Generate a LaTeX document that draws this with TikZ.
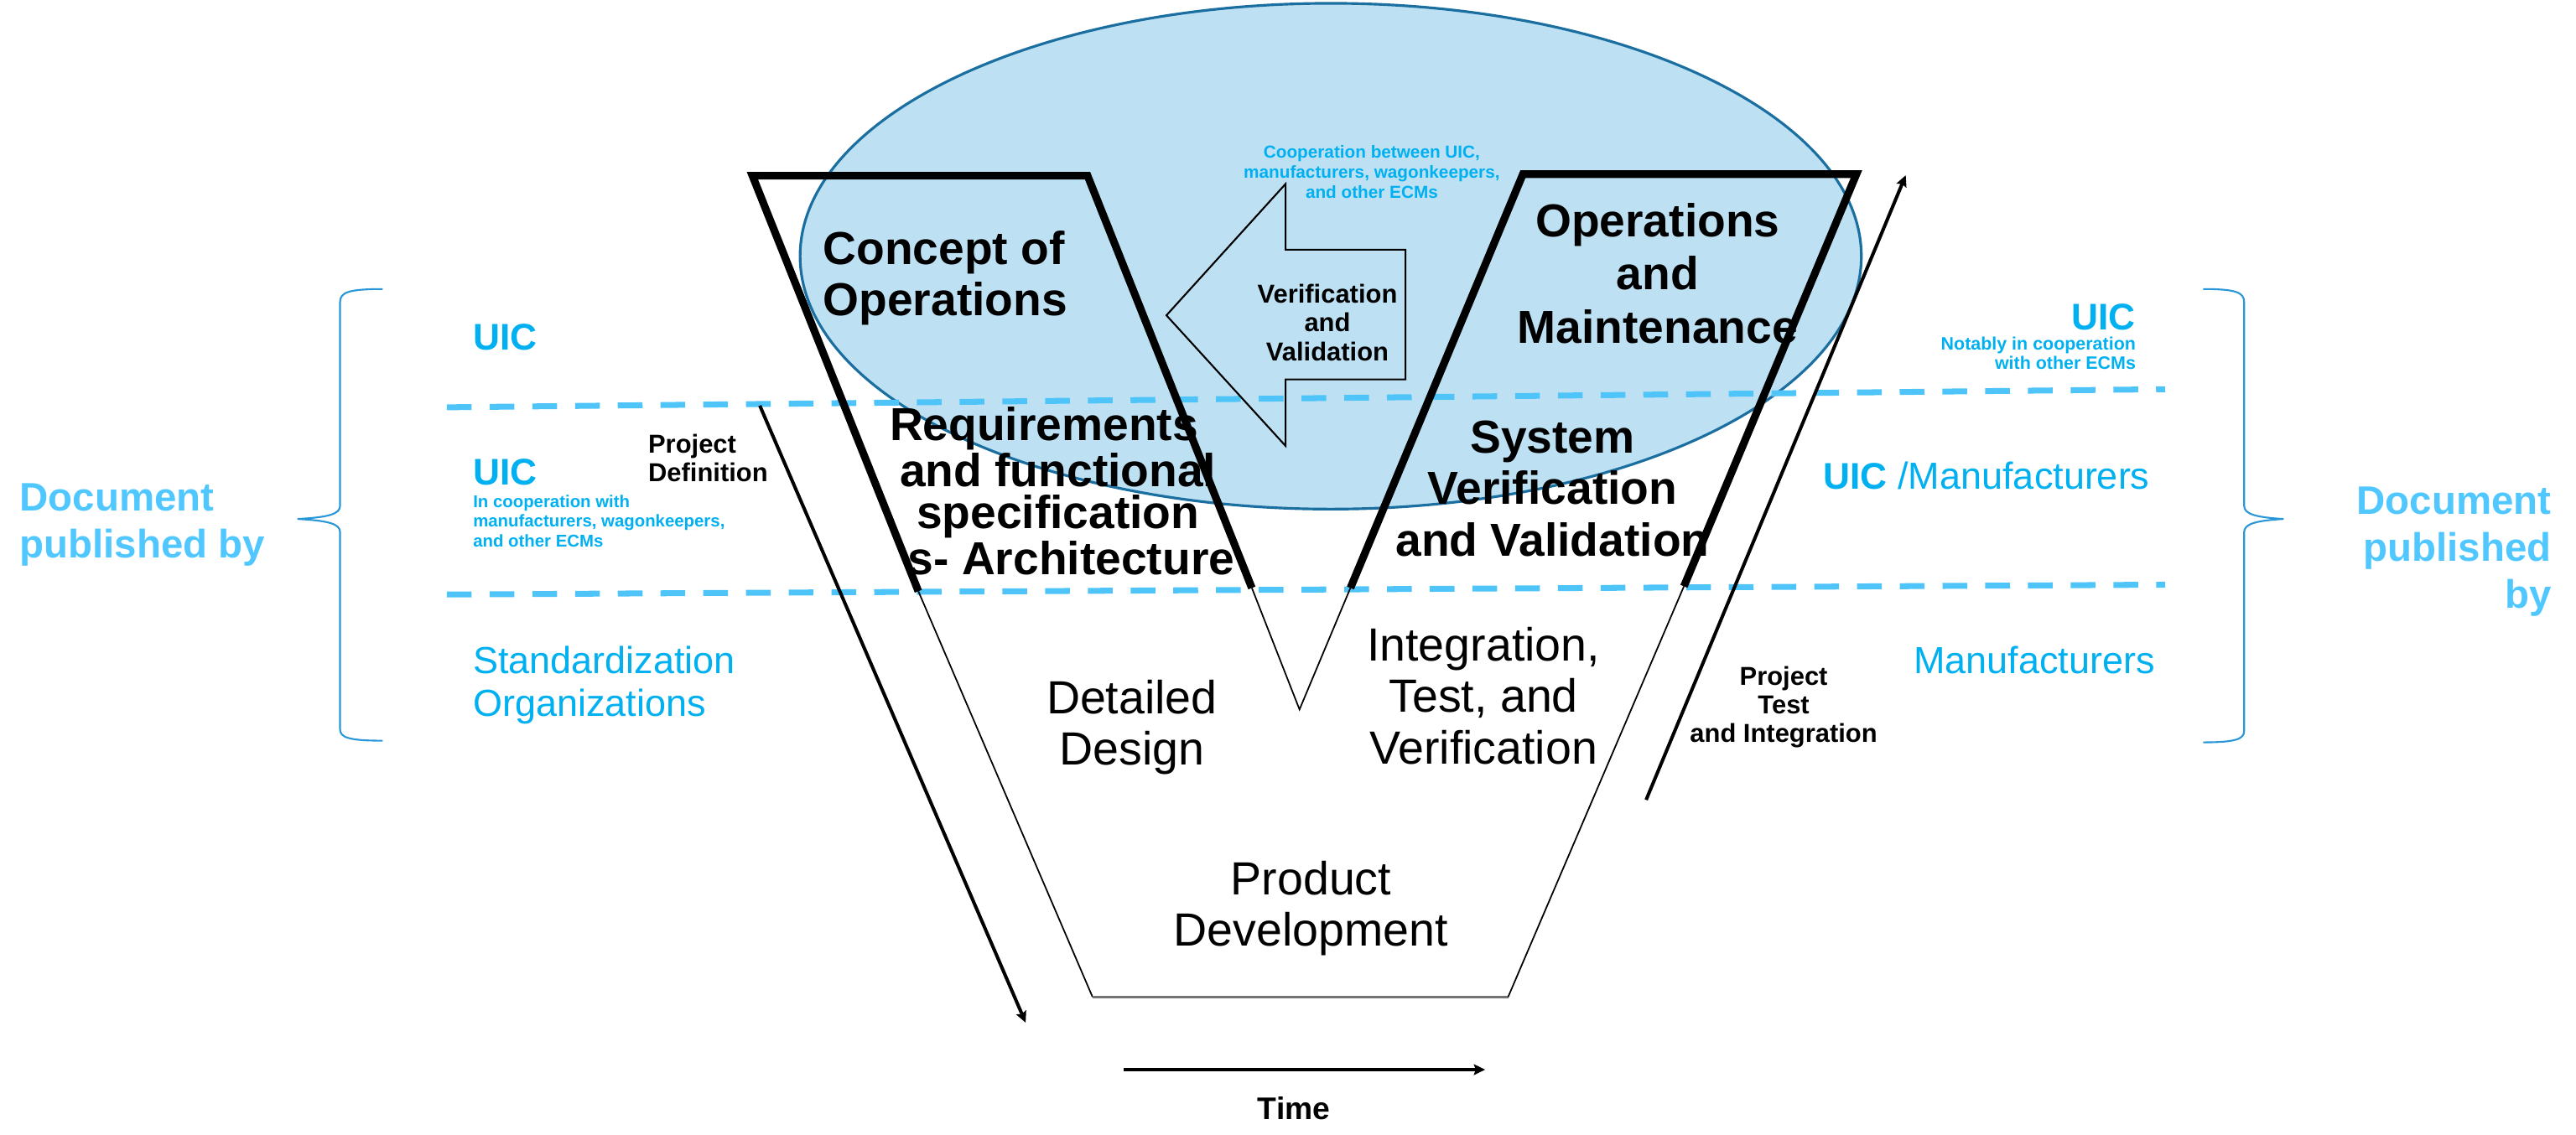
\documentclass[tikz,border=0pt]{standalone}
\usepackage{fontspec}
\setmainfont{Liberation Sans}
\usetikzlibrary{arrows.meta,shapes.geometric}
\definecolor{bubble}{RGB}{189,225,243}
\definecolor{bubbleedge}{RGB}{27,111,160}
\definecolor{dashblue}{RGB}{79,196,248}
\definecolor{uicblue}{RGB}{0,176,240}
\definecolor{docblue}{RGB}{80,200,255}
\definecolor{bracecol}{RGB}{40,150,215}
\begin{document}
\begin{tikzpicture}[x=0.0195918cm, y=-0.0195918cm,
  every node/.style={inner sep=0pt, outer sep=0pt},
  phase/.style={line width=2.6pt, line join=miter},
  thinline/.style={line width=0.5pt},
  baseline/.style={line width=0.8pt, black!55},
  layer/.style={dashblue, line width=2pt, dash pattern=on 8.4pt off 6.1pt},
  progress/.style={line width=1.15pt, -{Stealth[length=3.8pt,width=3.6pt,inset=0.6pt]}},
  bracket/.style={bracecol, line width=0.6pt},
  blockarrow/.style={line width=0.6pt, line join=miter},
  big/.style={font=\fontsize{15.7}{17.3}\selectfont\bfseries, align=center},
  plain/.style={font=\fontsize{15.8}{17.4}\selectfont, align=center},
  mid/.style={font=\fontsize{8.8}{9.8}\selectfont\bfseries, align=center},
  tiny/.style={text=uicblue, font=\fontsize{5.9}{6.8}\selectfont\bfseries},
  org/.style={text=uicblue, font=\fontsize{12.6}{14.5}\selectfont\bfseries},
  orgplain/.style={text=uicblue, font=\fontsize{12.8}{14.5}\selectfont, align=left},
  docpub/.style={text=docblue, font=\fontsize{13.5}{16}\selectfont\bfseries}
]
\useasboundingbox (0,0) rectangle (1568,691);

% shaded collaboration area
\node[ellipse, draw=bubbleedge, fill=bubble, line width=0.9pt,
      minimum width=12.656cm, minimum height=6.034cm] (bubble) at (810,156) {};

% organisation layer boundaries
\coordinate (d1a) at (272,248);
\coordinate (d1b) at (1318,237);
\coordinate (d2a) at (272,362);
\coordinate (d2b) at (1318,356);
\draw[layer] (d1a) -- (d1b);
\draw[layer] (d2a) -- (d2b);

% verification and validation block arrow
\coordinate (va) at (710,192);
\coordinate (vb1) at (782.5,112);
\coordinate (vb2) at (782.5,152);
\coordinate (vb3) at (855.5,152);
\coordinate (vb4) at (855.5,231);
\coordinate (vb5) at (782.5,231);
\coordinate (vb6) at (782.5,271.5);
\draw[blockarrow] (va) -- (vb1) -- (vb2) -- (vb3) -- (vb4) -- (vb5) -- (vb6) -- cycle;

% V outline
\coordinate (fl) at (559,360);
\coordinate (fbl) at (665,607);
\coordinate (fbr) at (918,607);
\coordinate (fr) at (1025,357);
\coordinate (vl) at (762,358);
\coordinate (vbot) at (791,432);
\coordinate (vr) at (822,358);
\coordinate (lt1) at (458,107);
\coordinate (lt2) at (662,107);
\coordinate (rt1) at (927,106);
\coordinate (rt2) at (1130,106);
\draw[thinline] (fl) -- (fbl);
\draw[baseline] (fbl) -- (fbr);
\draw[thinline] (fbr) -- (fr);
\draw[thinline] (vl) -- (vbot) -- (vr);
\draw[phase] (fl) -- (lt1) -- (lt2) -- (vl);
\draw[phase] (vr) -- (rt1) -- (rt2) -- (fr);

% project time arrows
\coordinate (pda) at (462.5,247);
\coordinate (pdb) at (624.3,622.7);
\coordinate (pta) at (1002,487);
\coordinate (ptb) at (1160,106.7);
\coordinate (ta) at (684,651.3);
\coordinate (tb) at (904,651.3);
\draw[progress] (pda) -- (pdb);
\draw[progress] (pta) -- (ptb);
\draw[progress, line width=1.4pt] (ta) -- (tb);

% braces
\draw[bracket] (233,176) .. controls (212,176) and (207,178) .. (207,184)
  -- (207,308) .. controls (207,313) and (200,315) .. (181,316)
  .. controls (200,317) and (207,319) .. (207,324)
  -- (207,444) .. controls (207,449) and (212,451) .. (233,451);
\draw[bracket] (1341,176) .. controls (1361,176) and (1366,178) .. (1366,184)
  -- (1366,308) .. controls (1366,313) and (1373,315) .. (1390,316)
  .. controls (1373,317) and (1366,319) .. (1366,324)
  -- (1366,445) .. controls (1366,450) and (1361,452) .. (1341,452);

% phase labels (base anchor = baseline of the last line)
\node[big, align=left, anchor=base west] (conops) at (501,192) {Concept of\\Operations};
\node[big, anchor=base, font=\fontsize{15.7}{18.1}\selectfont\bfseries] (opmaint) at (1009,209) {Operations\\and\\Maintenance};
\node[big, anchor=base, font=\fontsize{15.7}{14.3}\selectfont\bfseries] (reqs) at (644,350) {Requirements\hspace*{9.5pt}\\and functional\\specification\\\hspace*{9pt}s- Architecture};
\node[big, anchor=base, font=\fontsize{15.7}{17.5}\selectfont\bfseries] (sysvv) at (945,338.5) {System\\Verification\\and Validation};
\node[plain, anchor=base] (detdes) at (689,466) {Detailed\\Design};
\node[plain, anchor=base] (integ) at (903,465) {Integration,\\Test, and\\Verification};
\node[plain, anchor=base] (proddev) at (798,576) {Product\\Development};
\node[mid, anchor=base] (vvtext) at (808,219.5) {Verification\\and\\Validation};
\node[tiny, align=center, anchor=base] (coop) at (835,120.5) {Cooperation between UIC,\\manufacturers, wagonkeepers,\\and other ECMs};

% project labels
\node[mid, align=left, anchor=base west] (pdef) at (394.6,293.2) {Project\\Definition};
\node[mid, anchor=base] (ptest) at (1085.7,452.2) {Project\\Test\\and Integration};
\node[font=\fontsize{10.6}{12}\selectfont\bfseries, anchor=base] (time) at (787.6,681.4) {Time};

% publishers, left side
\node[org, anchor=base west] (uicl1) at (288,213) {UIC};
\node[org, anchor=base west] (uicl2) at (288,295.5) {UIC};
\node[tiny, font=\fontsize{5.8}{6.8}\selectfont\bfseries, align=left, anchor=base west] (incoop) at (288,333.2) {In cooperation with\\manufacturers, wagonkeepers,\\and other ECMs};
\node[orgplain, anchor=base west] (stdorg) at (288,436) {Standardization\\Organizations};
\node[docpub, align=left, anchor=base west] (docl) at (12,339.7) {Document\\published by};

% publishers, right side
\node[org, anchor=base east] (uicr1) at (1300,200.6) {UIC};
\node[tiny, font=\fontsize{6.1}{6.6}\selectfont\bfseries, align=right, anchor=base east] (notably) at (1300,224.7) {Notably in cooperation\\with other ECMs};
\node[anchor=base west, text=uicblue] (uicman) at (1110,298) {\fontsize{12.6}{14.5}\selectfont\bfseries UIC\mdseries\fontsize{12.8}{14.5}\selectfont{} /Manufacturers};
\node[orgplain, anchor=base west] (manu) at (1165,410) {Manufacturers};
\node[docpub, align=right, anchor=base east] (docr) at (1553,370.4) {Document\\published\\by};
\end{tikzpicture}
\end{document}
